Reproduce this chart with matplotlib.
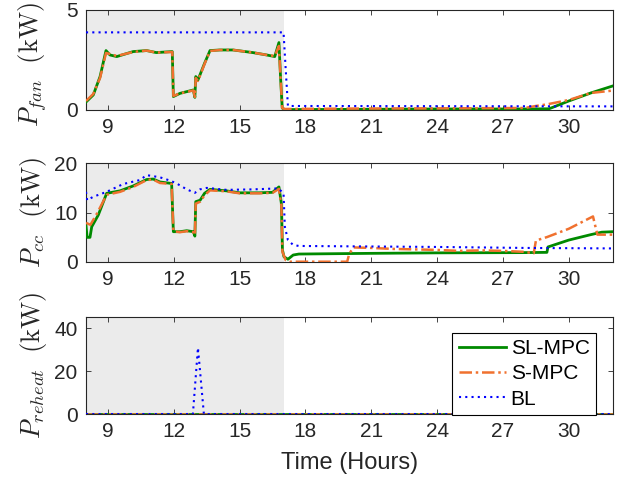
import matplotlib
matplotlib.use("Agg")
import matplotlib.pyplot as plt

plt.rcParams['font.family'] = ['Liberation Sans', 'DejaVu Sans']
plt.rcParams['mathtext.fontset'] = 'cm'

# ---------------- data ----------------
xticks = [9, 12, 15, 18, 21, 24, 27, 30]
occupied = [8.0, 17.0]

# P_fan (kW)
fan_sl_t = [8.0, 8.33, 8.64, 8.91, 9.09, 9.4, 10.15, 10.76, 11.2, 11.93, 11.98, 12.28, 12.89, 12.96, 13.0, 13.1,
            13.4, 13.65, 14.1, 14.7, 15.6, 16.23, 16.6, 16.79, 16.87, 16.94, 17.05, 20.0, 24.0, 28.0, 29.1, 30.0, 31.0, 32.0]
fan_sl_v = [0.4, 0.75, 1.67, 2.97, 2.75, 2.67, 2.92, 2.97, 2.87, 2.92, 0.67, 0.83, 1.0, 0.63, 1.67, 1.5,
            2.33, 2.97, 3.0, 3.0, 2.87, 2.75, 2.67, 3.37, 1.5, 0.1, 0.02, 0.03, 0.05, 0.05, 0.06, 0.45, 0.85, 1.2]
fan_s_t = [8.0, 8.33, 8.64, 8.91, 9.09, 9.4, 10.15, 10.76, 11.2, 11.93, 11.98, 12.28, 12.89, 12.96, 13.0, 13.1,
           13.4, 13.65, 14.1, 14.7, 15.6, 16.23, 16.6, 16.79, 16.87, 16.94, 17.05, 20.0, 24.0, 28.0, 28.5, 29.0, 30.0, 31.0, 32.0]
fan_s_v = [0.45, 0.8, 1.6, 2.85, 2.8, 2.7, 2.9, 2.97, 2.87, 2.9, 0.7, 0.83, 0.98, 0.65, 1.6, 1.45,
           2.3, 2.95, 3.0, 3.0, 2.87, 2.75, 2.7, 3.2, 1.5, 0.1, 0.05, 0.07, 0.08, 0.1, 0.2, 0.28, 0.5, 0.85, 0.97]
fan_bl_t = [8.0, 17.0, 17.1, 17.2, 32.0]
fan_bl_v = [3.88, 3.88, 2.0, 0.2, 0.18]

# P_cc (kW)
cc_sl_t = [8.0, 8.05, 8.18, 8.26, 8.56, 8.94, 9.55, 10.15, 10.76, 11.06, 11.37, 11.9, 11.98, 12.28, 12.59, 12.89,
           12.96, 13.0, 13.2, 13.4, 13.65, 14.4, 15.0, 15.9, 16.5, 16.79, 16.9, 16.95, 17.02, 17.2, 17.44, 17.7,
           21.0, 24.0, 28.0, 29.0, 29.05, 30.0, 31.0, 31.5, 32.0]
cc_sl_v = [7.3, 4.95, 4.95, 7.1, 9.5, 13.9, 14.4, 15.4, 16.7, 16.8, 16.2, 15.9, 6.1, 6.1, 6.3, 6.1,
           5.2, 12.2, 12.5, 13.9, 14.7, 14.4, 14.0, 14.0, 14.1, 15.2, 11.9, 2.4, 1.0, 0.5, 1.36, 1.56,
           1.7, 1.8, 1.85, 1.9, 3.0, 4.4, 5.5, 6.0, 6.1]
cc_s_t = [8.0, 8.2, 8.5, 8.94, 9.55, 10.15, 10.76, 11.06, 11.37, 11.9, 11.98, 12.28, 12.59, 12.89,
          12.96, 13.0, 13.2, 13.4, 13.65, 14.4, 15.0, 15.9, 16.5, 16.79, 16.9, 16.95, 17.1, 17.3, 19.9, 20.0,
          20.2, 21.0, 22.0, 23.0, 24.0, 25.0, 26.0, 27.0, 28.0, 28.4, 28.5, 29.0, 30.0, 31.1, 31.3, 32.0]
cc_s_v = [7.9, 7.5, 9.8, 13.6, 14.2, 15.2, 16.6, 16.7, 16.0, 15.8, 6.2, 6.0, 6.2, 6.0,
          5.4, 11.8, 12.2, 13.5, 14.5, 14.3, 13.9, 13.9, 14.0, 14.8, 11.5, 2.0, 0.3, 0.0, 0.0, 1.7,
          2.9, 2.8, 2.6, 2.5, 2.4, 2.2, 2.3, 2.2, 2.0, 1.7, 4.3, 5.0, 6.7, 9.2, 5.5, 5.5]
cc_bl_t = [8.0, 8.05, 8.33, 8.94, 9.7, 10.46, 10.76, 11.37, 11.82, 12.13, 12.59, 12.96, 13.19, 13.5, 14.4,
           15.6, 16.76, 17.0, 17.06, 17.2, 17.44, 17.7, 24.0, 28.0, 32.0]
cc_bl_v = [14.2, 12.5, 13.2, 14.2, 15.8, 16.6, 17.6, 17.15, 16.5, 15.9, 14.7, 14.0, 14.7, 15.0, 14.6,
           14.7, 14.9, 13.9, 7.1, 4.4, 3.4, 3.2, 3.0, 2.8, 2.7]

# P_reheat (kW)
rh_sl_t = [8.0, 32.0]
rh_sl_v = [0.0, 0.0]
rh_s_t = [8.0, 32.0]
rh_s_v = [0.0, 0.0]
rh_bl_t = [8.0, 12.87, 13.1, 13.37, 32.0]
rh_bl_v = [0.0, 0.0, 31.0, 0.0, 0.0]

labels = ['SL-MPC', 'S-MPC', 'BL']
ylabels = [r'$P_{fan}\ \ \mathrm{(kW)}$', r'$P_{cc}\ \ \mathrm{(kW)}$', r'$P_{reheat}\ \ \mathrm{(kW)}$']
ylims = [(0, 5), (0, 20), (0, 45.5)]
yticks = [[0, 5], [0, 10, 20], [0, 20, 40]]
label_y = [0.45, 0.5, 0.5]

# ---------------- style ----------------
c_sl = '#008a00'
c_s = '#f0712f'
c_bl = '#0000ff'
axcol = '#262626'

fig = plt.figure(figsize=(6.22, 4.86), dpi=100)
left, width = 0.1383, 0.8468
positions = [(left, 0.7737, width, 0.2058), (left, 0.4615, width, 0.2025), (left, 0.1481, width, 0.2002)]

series = [
    ((fan_sl_t, fan_sl_v), (fan_s_t, fan_s_v), (fan_bl_t, fan_bl_v)),
    ((cc_sl_t, cc_sl_v), (cc_s_t, cc_s_v), (cc_bl_t, cc_bl_v)),
    ((rh_sl_t, rh_sl_v), (rh_s_t, rh_s_v), (rh_bl_t, rh_bl_v)),
]

axes = []
for i, pos in enumerate(positions):
    ax = fig.add_axes(pos)
    axes.append(ax)
    ax.axvspan(occupied[0], occupied[1], color='#ebebeb', zorder=0, lw=0)
    (t1, v1), (t2, v2), (t3, v3) = series[i]
    ax.plot(t1, v1, color=c_sl, lw=2.0, ls='-', label=labels[0], zorder=3)
    ax.plot(t2, v2, color=c_s, lw=1.8, ls=(0, (5, 1.5, 1, 1.5)), label=labels[1], zorder=4)
    ax.plot(t3, v3, color=c_bl, lw=1.5, ls=(0, (1, 2)), label=labels[2], zorder=5)
    ax.set_xlim(8, 32)
    ax.set_ylim(*ylims[i])
    ax.set_xticks(xticks)
    ax.set_yticks(yticks[i])
    ax.tick_params(direction='in', length=3.5, width=0.6, top=True, right=True,
                   labelsize=15, colors=axcol, pad=6)
    for s in ax.spines.values():
        s.set_color(axcol)
        s.set_linewidth(0.8)
    ax.set_ylabel(ylabels[i], fontsize=19, color=axcol)
    ax.yaxis.set_label_coords(-0.07, label_y[i])

axes[2].set_xlabel('Time (Hours)', fontsize=17, color=axcol, labelpad=8)
leg = axes[2].legend(loc='lower right', bbox_to_anchor=(0.968, -0.01), fontsize=15,
                     frameon=True, fancybox=False, framealpha=1, edgecolor='black',
                     handlelength=2.3, handletextpad=0.2, borderpad=0.3, labelspacing=0.3,
                     borderaxespad=0)
leg.get_frame().set_linewidth(0.8)

fig.savefig('out.png', dpi=100)
